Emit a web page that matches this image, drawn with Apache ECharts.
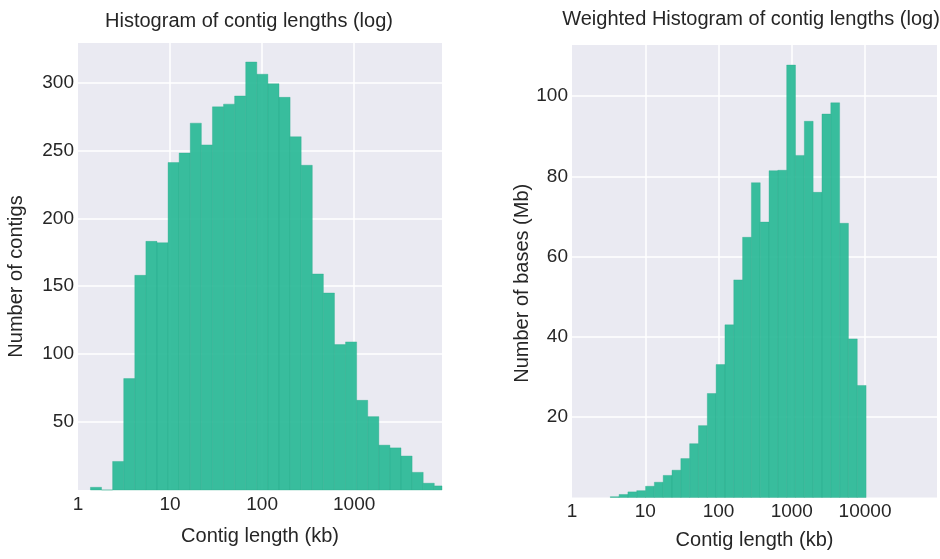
<!DOCTYPE html>
<html lang="en">
<head>
    <meta charset="UTF-8">
    <title>Contig length histograms</title>
    <script src="https://cdn.jsdelivr.net/npm/echarts@6/dist/echarts.min.js"></script>
    <style>
        html, body { margin: 0; padding: 0; background: #fff; }
        #main { width: 940px; height: 559px; }
    </style>
</head>
<body>
<div id="main"></div>
<script type="text/javascript">
    // bin edges in kb (equal width on log scale)
    var leftEdges = [1.365, 1.801, 2.377, 3.137, 4.140, 5.463, 7.211, 9.517, 12.56, 16.58,
        21.88, 28.87, 38.11, 50.29, 66.37, 87.60, 115.6, 152.6, 201.4, 265.8,
        350.8, 463.0, 611.0, 806.4, 1064, 1404, 1854, 2446, 3228, 4261,
        5623, 7421, 9795];
    // number of contigs per bin
    var leftCounts = [2, 0, 21, 82, 158, 183, 182, 241, 248, 270,
        254, 282, 284, 290, 315, 306, 299, 289, 260, 239,
        159, 145, 107, 109, 66, 54, 33, 31, 25, 13,
        5, 3];

    var rightEdges = [3.331, 4.395, 5.798, 7.649, 10.09, 13.32, 17.57, 23.19, 30.59, 40.36,
        53.26, 70.27, 92.75, 122.4, 161.5, 213.1, 281.1, 370.9, 489.5, 645.8,
        852.2, 1124, 1484, 1957, 2583, 3408, 4498, 5934, 7830, 10330];
    // number of bases (Mb) per bin
    var rightMb = [0.2, 0.75, 1.4, 1.7, 2.8, 3.8, 5.5, 6.8, 9.7, 13.4,
        17.9, 25.9, 33.1, 43.0, 54.2, 64.8, 78.4, 68.6, 81.4, 81.5,
        107.7, 85.2, 93.7, 76.0, 95.5, 98.3, 68.3, 39.5, 27.9];

    var leftXTicks = ['1', '10', '100', '1000'];
    var rightXTicks = ['1', '10', '100', '1000', '10000'];

    var textColor = '#262626';
    var fontFam = 'Liberation Sans, Arial, sans-serif';

    // histogram rows: [log10(lo), log10(hi), value]
    function toBins(edges, vals) {
        var res = [];
        for (var i = 0; i < vals.length; i++) {
            res.push([Math.log10(edges[i]), Math.log10(edges[i + 1]), vals[i]]);
        }
        return res;
    }

    function renderBar(params, api) {
        var p0 = api.coord([api.value(0), 0]);
        var p1 = api.coord([api.value(1), api.value(2)]);
        var shape = echarts.graphic.clipRectByRect({
            x: p0[0], y: p1[1], width: p1[0] - p0[0], height: p0[1] - p1[1]
        }, {
            x: params.coordSys.x, y: params.coordSys.y,
            width: params.coordSys.width, height: params.coordSys.height
        });
        return shape && {
            type: 'rect',
            shape: shape,
            style: {
                fill: 'rgba(40,185,150,0.92)',
                stroke: 'rgba(38,170,138,0.6)',
                lineWidth: 0.6
            }
        };
    }

    function xAxisOf(idx, max, ticks, nameGap) {
        return {
            gridIndex: idx,
            type: 'value',
            min: 0,
            max: Math.log10(max),
            interval: 1,
            name: 'Contig length (kb)',
            nameLocation: 'middle',
            nameGap: nameGap,
            nameTextStyle: { fontSize: 20, color: textColor, fontFamily: fontFam },
            axisLine: { show: false },
            axisTick: { show: false },
            axisLabel: {
                fontSize: 19, color: textColor, fontFamily: fontFam, margin: 5,
                showMaxLabel: false,
                formatter: function (v) { return ticks[Math.round(v)] || ''; }
            },
            splitLine: { show: true, showMinLine: false, showMaxLine: false,
                lineStyle: { color: '#ffffff', width: 1.5 } }
        };
    }

    function yAxisOf(idx, max, interval, name, nameGap, shiftDown) {
        return {
            gridIndex: idx,
            type: 'value',
            min: 0,
            max: max,
            interval: interval,
            name: name,
            nameLocation: 'middle',
            nameGap: nameGap,
            nameTextStyle: { fontSize: 20, color: textColor, fontFamily: fontFam,
                padding: [0, shiftDown * 2, 0, 0] },
            axisLine: { show: false },
            axisTick: { show: false },
            axisLabel: {
                fontSize: 19, color: textColor, fontFamily: fontFam, margin: 4,
                showMinLabel: false, showMaxLabel: false
            },
            splitLine: { show: true, showMinLine: false, showMaxLine: false,
                lineStyle: { color: '#ffffff', width: 1.5 } }
        };
    }

    var myChart = echarts.init(document.getElementById('main'), null, { renderer: 'canvas' });

    var option = {
        animation: false,
        backgroundColor: '#ffffff',
        title: [
            {
                text: 'Histogram of contig lengths (log)',
                left: 244, top: 6, textAlign: 'center',
                textStyle: { fontSize: 20, fontWeight: 'normal', color: textColor, fontFamily: fontFam }
            },
            {
                text: 'Weighted Histogram of contig lengths (log)',
                left: 746, top: 4, textAlign: 'center',
                textStyle: { fontSize: 20, fontWeight: 'normal', color: textColor, fontFamily: fontFam }
            }
        ],
        grid: [
            { left: 78, right: 498, top: 43, bottom: 69, show: true,
              backgroundColor: '#EAEAF2', borderWidth: 0 },
            { left: 572, right: 3, top: 45, bottom: 61.5, show: true,
              backgroundColor: '#EAEAF2', borderWidth: 0 }
        ],
        xAxis: [
            xAxisOf(0, 9000, leftXTicks, 36),
            xAxisOf(1, 96000, rightXTicks, 33)
        ],
        yAxis: [
            yAxisOf(0, 329, 50, 'Number of contigs', 52, 10),
            yAxisOf(1, 112.7, 20, 'Number of bases (Mb)', 40, 12)
        ],
        series: [
            {
                type: 'custom',
                xAxisIndex: 0, yAxisIndex: 0,
                renderItem: renderBar,
                encode: { x: [0, 1], y: 2 },
                data: toBins(leftEdges, leftCounts)
            },
            {
                type: 'custom',
                xAxisIndex: 1, yAxisIndex: 1,
                renderItem: renderBar,
                encode: { x: [0, 1], y: 2 },
                data: toBins(rightEdges, rightMb)
            }
        ]
    };

    myChart.setOption(option);
</script>
</body>
</html>
